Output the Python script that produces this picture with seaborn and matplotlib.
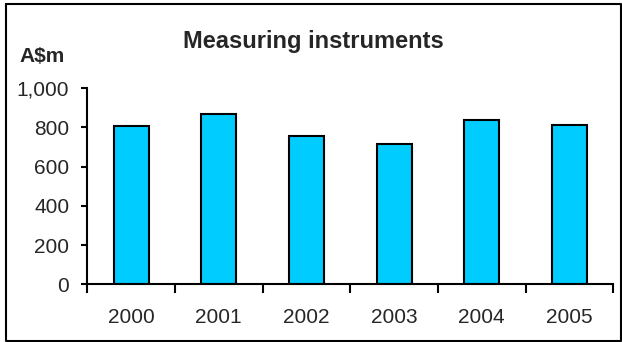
import matplotlib
matplotlib.use("Agg")
import matplotlib.pyplot as plt
from matplotlib.lines import Line2D
from matplotlib.ticker import FixedLocator, FuncFormatter
import seaborn as sns
import pandas as pd

# Données
years = ["2000", "2001", "2002", "2003", "2004", "2005"]
values = [808, 867, 754, 715, 839, 813]
yticks = [0, 200, 400, 600, 800, 1000]

df = pd.DataFrame({"year": years, "value": values})

sns.set_style("white")
plt.rcParams["font.family"] = ["Liberation Sans", "DejaVu Sans"]

fig = plt.figure(figsize=(6.22, 3.42), dpi=100)
ax = fig.add_axes([87.3 / 622, 1 - 284.3 / 342, (613.3 - 87.3) / 622, (284.3 - 88) / 342])

sns.barplot(data=df, x="year", y="value", color="#00CCFF", saturation=1,
            edgecolor="black", linewidth=1.5, width=0.4, ax=ax)

ax.set_xlim(-0.5, len(years) - 0.5)
ax.set_ylim(0, 1000)
ax.set_yticks(yticks)
ax.yaxis.set_major_formatter(FuncFormatter(lambda v, p: f"{int(v):,}"))
ax.xaxis.set_minor_locator(FixedLocator([i - 0.5 for i in range(len(years) + 1)]))
ax.tick_params(axis="x", which="major", length=0, labelsize=15, pad=17)
ax.tick_params(axis="x", which="minor", length=6.5, width=1.5, direction="out", color="black", bottom=True)
ax.tick_params(axis="y", which="major", length=4, width=1.5, direction="out", color="black",
               labelsize=15, pad=9, left=True)
ax.set_xlabel("")
ax.set_ylabel("")
sns.despine(ax=ax)
for s in ["left", "bottom"]:
    ax.spines[s].set_color("black")
    ax.spines[s].set_linewidth(1.5)

fig.text(313 / 622, 1 - 48 / 342, "Measuring instruments", ha="center", va="baseline",
         fontsize=17, fontweight="bold")
fig.text(19 / 622, 1 - 62 / 342, "A$m", ha="left", va="baseline",
         fontsize=15, fontweight="bold")

# cadre autour du graphique
x0, y0 = 6 / 622, 1 - 3.5 / 342
x1, y1 = 620.5 / 622, 1.2 / 342
fig.add_artist(Line2D([x0, x1, x1, x0, x0], [y0, y0, y1, y1, y0], transform=fig.transFigure,
                      color="black", linewidth=1.5))

fig.savefig("out.png", dpi=100)
